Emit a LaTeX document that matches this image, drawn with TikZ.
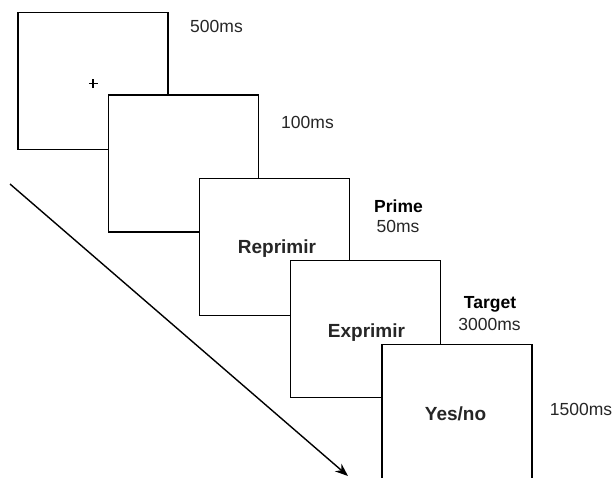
\documentclass[tikz,border=0pt]{standalone}
\usepackage{fontspec}
\setmainfont{Liberation Sans}
\usetikzlibrary{arrows.meta}
\tikzset{
  screen/.style={draw=black, fill=white, line width=1.4pt, minimum width=150pt, minimum height=137pt, inner sep=0pt},
  timelbl/.style={anchor=base, font=\fontsize{17.5}{20}\selectfont, text=black!85, inner sep=0pt},
  phaselbl/.style={anchor=base, font=\fontsize{17.5}{20}\selectfont\bfseries, inner sep=0pt},
  word/.style={anchor=base, font=\fontsize{19}{22}\selectfont\bfseries, text=black!85, inner sep=0pt},
  timearrow/.style={line width=1.4pt, -{Stealth[length=13pt,width=10pt]}}
}
\begin{document}
\begin{tikzpicture}[x=1pt,y=-1pt]
\clip (0,0) rectangle (613,477);
\fill[white] (0,0) rectangle (613,477);
% screens
\node[screen] (s1) at (93,81) {};
\node[screen] (s2) at (183.7,163.5) {};
\node[screen] (s3) at (274.5,246.7) {};
\node[screen] (s4) at (365.5,329.2) {};
\node[screen] (s5) at (457,413) {};
% fixation cross
\coordinate (fx) at (93.3,83.5);
\draw[line width=1.8pt] ([xshift=-4.5pt]fx) -- ([xshift=4.5pt]fx);
\draw[line width=1.8pt] ([yshift=-4.5pt]fx) -- ([yshift=4.5pt]fx);
% words
\node[word] (w3) at (277,253.3) {Reprimir};
\node[word] (w4) at (366.5,337) {Exprimir};
\node[word] (w5) at (455.5,420.7) {Yes/no};
% labels
\node[timelbl] (t1) at (216.5,32.5) {500ms};
\node[timelbl] (t2) at (307.5,128.5) {100ms};
\node[phaselbl] (p3) at (398.5,212) {Prime};
\node[timelbl] (t3) at (398,232.3) {50ms};
\node[phaselbl] (p4) at (490,308) {Target};
\node[timelbl] (t4) at (489.5,330) {3000ms};
\node[timelbl] (t5) at (581,415) {1500ms};
% time arrow
\coordinate (a0) at (10,184);
\coordinate (a1) at (348,476);
\draw[timearrow] (a0) -- (a1);
\end{tikzpicture}
\end{document}
